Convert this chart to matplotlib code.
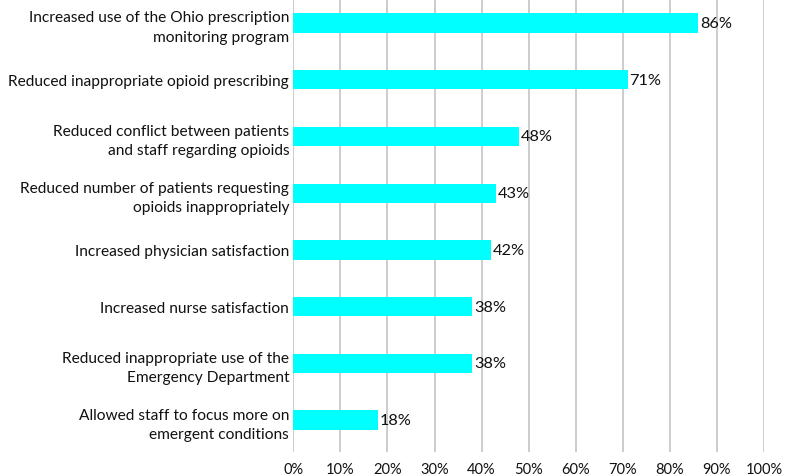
import matplotlib.pyplot as plt
import matplotlib.transforms as mtransforms
import numpy as np

labels = [
    "Increased use of the Ohio prescription\nmonitoring program",
    "Reduced inappropriate opioid prescribing",
    "Reduced conflict between patients\nand staff regarding opioids",
    "Reduced number of patients requesting\nopioids inappropriately",
    "Increased physician satisfaction",
    "Increased nurse satisfaction",
    "Reduced inappropriate use of the\nEmergency Department",
    "Allowed staff to focus more on\nemergent conditions",
]
values = [86, 71, 48, 43, 42, 38, 38, 18]
ticks = [0, 10, 20, 30, 40, 50, 60, 70, 80, 90, 100]

plt.rcParams['font.family'] = ['Lato', 'DejaVu Sans']

fig = plt.figure(figsize=(7.86, 4.77), dpi=100)
ax = fig.add_axes([0.3732, 0.0503, 0.5988, 0.9497])

y = np.arange(len(values))
ax.barh(y, values, height=0.34, color='#00FFFF', zorder=3)
for yi, v in zip(y, values):
    ax.text(v + 0.4, yi, f"{v}%", va='center', ha='left', fontsize=11.8, color='#111111', zorder=4)

ax.set_xlim(0, 100)
ax.set_ylim(7.564, -0.423)
ax.set_xticks(ticks)
ax.set_xticklabels([f"{t}%" for t in ticks], fontsize=10.5, color='#111111')
# tick labels sit a little right of their gridlines in the original
shift = mtransforms.ScaledTranslation(0.04, 0, fig.dpi_scale_trans)
for lbl in ax.get_xticklabels():
    lbl.set_transform(lbl.get_transform() + shift)
ax.set_yticks(y)
ax.set_yticklabels(labels, fontsize=11.2, color='#111111', linespacing=1.5)
ax.tick_params(axis='y', length=0, pad=3)
ax.tick_params(axis='x', length=0, pad=7)
ax.grid(axis='x', color='#c4c4c4', linewidth=1.2, zorder=0)
for s in ax.spines.values():
    s.set_visible(False)

fig.savefig('out.png', dpi=100)
